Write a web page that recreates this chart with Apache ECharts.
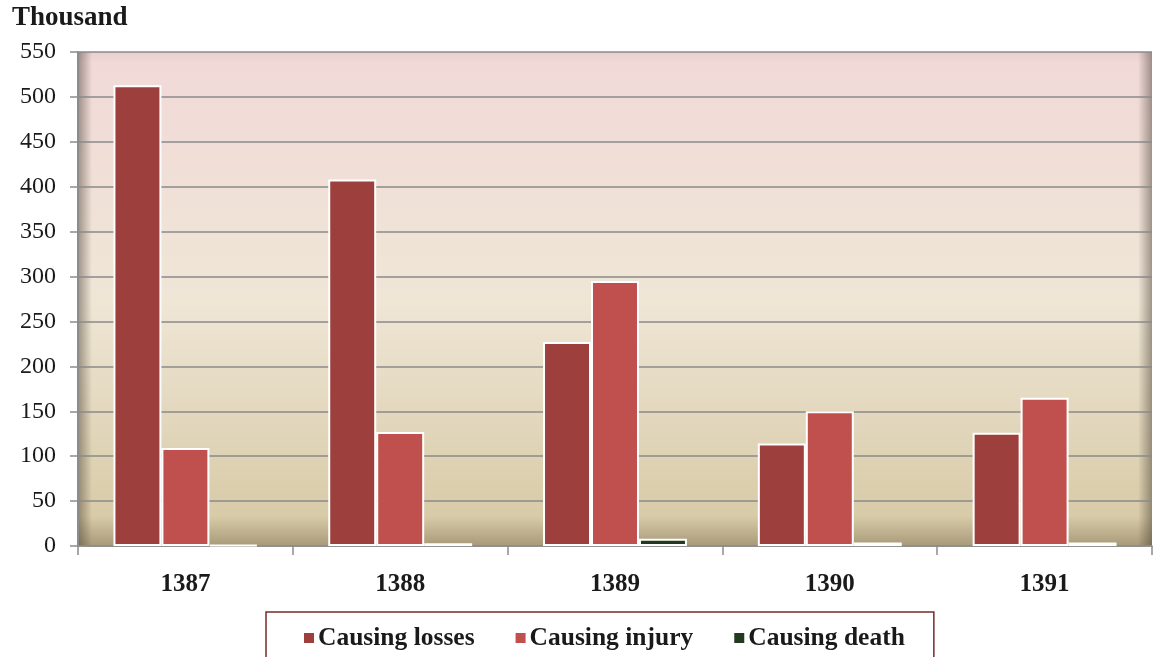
<!DOCTYPE html>
<html>
<head>
<meta charset="utf-8">
<script src="https://cdn.jsdelivr.net/npm/echarts@6/dist/echarts.min.js"></script>
<style>
  html, body { margin: 0; padding: 0; background: #fff; }
  #chart { width: 1156px; height: 657px; }
</style>
</head>
<body>
<div id="chart"></div>
<script>
// data (thousand)
const years = ["1387", "1388", "1389", "1390", "1391"];
const losses = [513, 408, 227, 114, 126];
const injury = [109, 127, 295, 150, 165];
const death = [1, 3, 8, 4, 4];
const seriesNames = ["Causing losses", "Causing injury", "Causing death"];
const colors = ["#9d3f3d", "#c0504d", "#223b1e"];

const serif = "'Liberation Serif', 'Times New Roman', serif";

const chart = echarts.init(document.getElementById("chart"));

// plot box
const gLeft = 78, gRight = 4, gTop = 52, gBottom = 111;
const gH = 657 - gTop - gBottom;

const barSeries = [losses, injury, death].map((vals, i) => ({
  name: seriesNames[i],
  type: "bar",
  barGap: "0%",
  barCategoryGap: "33%",
  itemStyle: {
    color: colors[i],
    borderColor: "#ffffff",
    borderWidth: 2
  },
  emphasis: { disabled: true },
  z: 3,
  data: vals
}));

// soft inner shadow on the side edges of the plot
const edge = (x, w, dir) => ({
  type: "rect",
  silent: true,
  z: 0,
  shape: { x: x, y: gTop, width: w, height: gH },
  style: {
    fill: new echarts.graphic.LinearGradient(dir ? 0 : 1, 0, dir ? 1 : 0, 0, [
      { offset: 0, color: "rgba(60,50,40,0.45)" },
      { offset: 1, color: "rgba(60,50,40,0)" }
    ])
  }
});

const option = {
  animation: false,
  color: colors,
  textStyle: { fontFamily: serif },
  grid: {
    left: gLeft,
    right: gRight,
    top: gTop,
    bottom: gBottom,
    show: true,
    borderWidth: 0,
    backgroundColor: new echarts.graphic.LinearGradient(0, 0, 0, 1, [
      { offset: 0, color: "#e6cfcd" },
      { offset: 0.02, color: "#f1d9d8" },
      { offset: 0.5, color: "#efe6d6" },
      { offset: 0.94, color: "#d8cba8" },
      { offset: 1, color: "#a89a78" }
    ])
  },
  graphic: [
    edge(gLeft, 14, true),
    edge(1156 - gRight - 14, 14, false),
    {
      type: "text",
      left: 12,
      top: 5,
      style: {
        text: "Thousand",
        font: "bold 27px " + serif,
        fill: "#1a1a1a"
      }
    }
  ],
  legend: {
    left: 266,
    top: 612,
    padding: [13, 29, 22, 36],
    borderColor: "#7a2a2a",
    borderWidth: 1.5,
    itemWidth: 12,
    itemHeight: 12,
    itemGap: 39,
    icon: "rect",
    textStyle: {
      fontFamily: serif,
      fontWeight: "bold",
      fontSize: 25.5,
      color: "#1a1a1a",
      padding: [0, 0, 0, -2]
    },
    data: seriesNames
  },
  xAxis: {
    type: "category",
    data: years,
    axisLine: { lineStyle: { color: "#8c8c8c", width: 1.5 } },
    axisTick: { show: true, length: 9, lineStyle: { color: "#8c8c8c", width: 1.5 } },
    axisLabel: {
      margin: 26,
      fontFamily: serif,
      fontWeight: "bold",
      fontSize: 25,
      color: "#1a1a1a"
    },
    splitLine: { show: false }
  },
  yAxis: {
    type: "value",
    min: 0,
    max: 550,
    interval: 50,
    axisLine: { show: true, lineStyle: { color: "#8c8c8c", width: 2 } },
    axisTick: { show: true, length: 8, lineStyle: { color: "#8c8c8c", width: 1.5 } },
    axisLabel: {
      margin: 22,
      fontFamily: serif,
      fontSize: 24,
      color: "#1a1a1a"
    },
    splitLine: { lineStyle: { color: "#8a8a8a", width: 1.5 } }
  },
  series: barSeries
};

chart.setOption(option);
</script>
</body>
</html>
